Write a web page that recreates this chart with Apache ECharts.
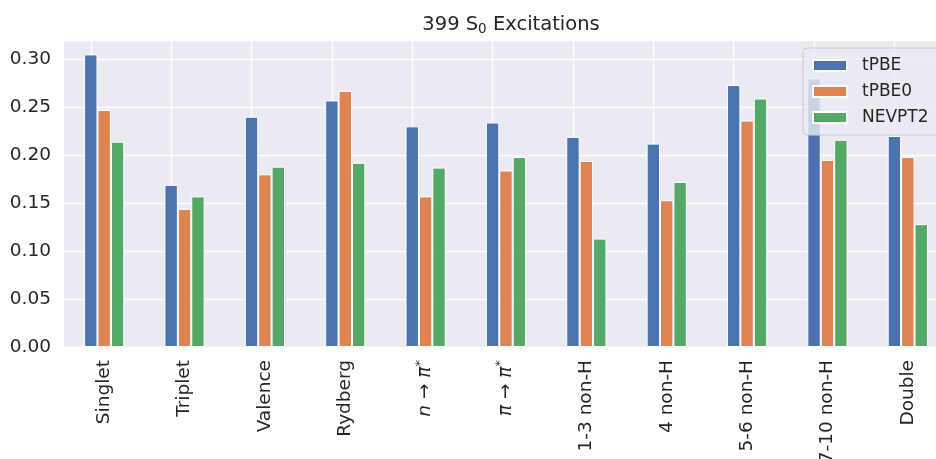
<!DOCTYPE html>
<html>
<head>
<meta charset="utf-8">
<script src="https://cdn.jsdelivr.net/npm/echarts@6/dist/echarts.min.js"></script>
<style>html,body{margin:0;padding:0;background:#fff}#c{width:936px;height:459px}</style>
</head>
<body>
<div id="c"></div>
<script>
const categories = ['Singlet','Triplet','Valence','Rydberg','n→π*','π→π*','1-3 non-H','4 non-H','5-6 non-H','7-10 non-H','Double'];
const tPBE   = [0.305, 0.169, 0.240, 0.257, 0.230, 0.234, 0.219, 0.212, 0.273, 0.280, 0.220];
const tPBE0  = [0.247, 0.144, 0.180, 0.267, 0.157, 0.184, 0.194, 0.153, 0.236, 0.195, 0.198];
const NEVPT2 = [0.214, 0.157, 0.188, 0.192, 0.187, 0.198, 0.113, 0.172, 0.259, 0.216, 0.128];
const yTicks = [0, 0.05, 0.10, 0.15, 0.20, 0.25, 0.30];
const seriesNames = ['tPBE','tPBE0','NEVPT2'];
const colors = ['#4C72B0','#DD8452','#55A868'];

const FONT = 'DejaVu Sans';
const TXT = '#262626';
const TICK_FS = 18.5;
const chart = echarts.init(document.getElementById('c'));

function catLabel(v){
  if (v === 'n→π*') return '{i|n} → {i|π}{sup|*}';
  if (v === 'π→π*') return '{i|π} → {i|π}{sup|*}';
  return v;
}

const barData = [tPBE, tPBE0, NEVPT2];
chart.setOption({
  animation: false,
  title: {
    text: '399 S{sub|0} Excitations',
    left: 506, top: 9, textAlign: 'center',
    textStyle: { fontFamily: FONT, fontSize: 19.5, fontWeight: 'normal', color: TXT,
      rich: { sub: { fontFamily: FONT, fontSize: 13.5, color: TXT, padding: [8,0,0,0] } } }
  },
  grid: { left: 64, top: 40, width: 884, height: 307, show: true, backgroundColor: '#EAEAF2', borderWidth: 0,
          containLabel: false, outerBoundsMode: 'none' },
  legend: {
    orient: 'vertical', left: 803, top: 48,
    data: seriesNames,
    icon: 'rect', itemWidth: 34, itemHeight: 11, itemGap: 9,
    padding: [9, 30, 9, 9],
    backgroundColor: 'rgba(234,234,242,0.8)', borderColor: '#cccccc', borderWidth: 1, borderRadius: 4,
    textStyle: { fontFamily: FONT, fontSize: 17, color: TXT, padding: [0,0,0,10] }
  },
  xAxis: {
    type: 'category', data: categories,
    axisLine: { show: false }, axisTick: { show: false },
    splitLine: { show: false },
    axisLabel: {
      rotate: 90, margin: 13, interval: 0,
      fontFamily: FONT, fontSize: TICK_FS, color: TXT,
      formatter: catLabel,
      rich: {
        i: { fontFamily: FONT, fontSize: TICK_FS, fontStyle: 'italic', color: TXT },
        sup: { fontFamily: FONT, fontSize: 13, color: TXT, padding: [0,0,11,0] }
      }
    }
  },
  yAxis: {
    type: 'value', min: 0, max: 0.32, interval: 0.05,
    axisLine: { show: false }, axisTick: { show: false },
    splitLine: { show: true, lineStyle: { color: '#ffffff', width: 1.3 } },
    axisLabel: { margin: 13, fontFamily: FONT, fontSize: TICK_FS, color: TXT, showMaxLabel: false,
      formatter: v => (yTicks.some(t => Math.abs(t - v) < 1e-9) ? v.toFixed(2) : '') }
  },
  series: seriesNames.map((n, i) => {
    const s = {
      name: n, type: 'bar', data: barData[i],
      barWidth: 13.4, barGap: '0%',
      itemStyle: { color: colors[i], borderColor: '#ffffff', borderWidth: 1 }
    };
    if (i === 0) {
      s.markLine = {
        z: 1, silent: true, symbol: 'none', animation: false,
        label: { show: false },
        lineStyle: { color: '#ffffff', width: 1.3, type: 'solid' },
        data: categories.map(c => ({ xAxis: c }))
      };
    }
    return s;
  })
});
</script>
</body>
</html>
